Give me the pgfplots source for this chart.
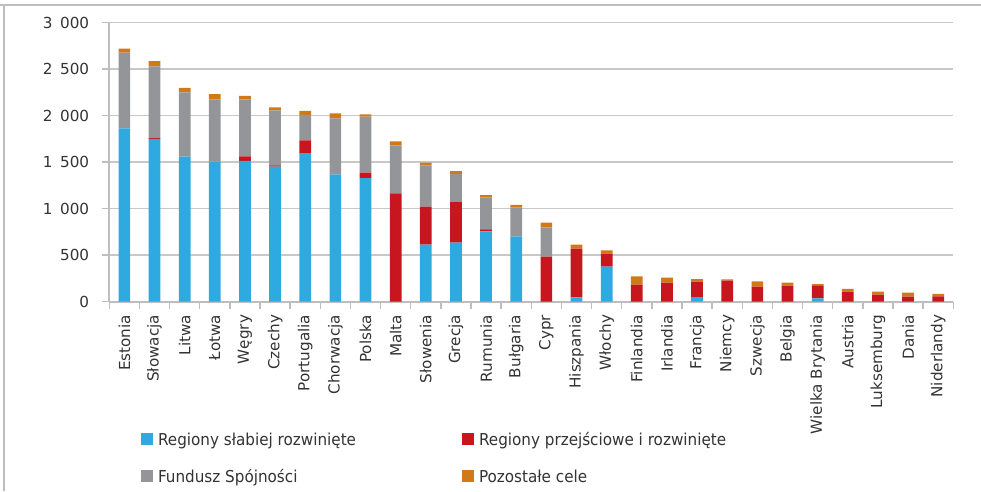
\documentclass[border=0pt]{standalone}
\usepackage{fontspec}
\setmainfont{DejaVu Sans}
\usepackage{pgfplots}
\usepackage{pgfplotstable}
\pgfplotsset{compat=1.18}

\definecolor{cBlue}{RGB}{46,170,225}
\definecolor{cRed}{RGB}{200,22,30}
\definecolor{cGray}{RGB}{147,149,152}
\definecolor{cOrange}{RGB}{208,121,24}
\definecolor{cGrid}{RGB}{200,200,200}
\definecolor{cAxis}{RGB}{190,190,190}
\definecolor{cText}{RGB}{51,51,51}

% allocations by country (EUR per capita)
\pgfplotstableread{
idx blue red gray orange
0  1865 0    813 43
1  1750 10   771 57
2  1559 0    693 46
3  1505 0    671 57
4  1513 50   613 36
5  1452 15   591 32
6  1592 143  273 43
7  1370 0    602 54
8  1330 57   603 25
9  0    1166 514 45
10 613  409  445 28
11 634  441  298 32
12 757  21   344 25
13 703  0    312 25
14 0    484  316 50
15 47   523  0   43
16 376  140  0   37
17 0    183  0   90
18 0    204  0   54
19 50   165  0   29
20 0    226  0   14
21 0    162  0   57
22 0    172  0   32
23 36   133  0   21
24 0    108  0   29
25 0    75   0   33
26 0    54   0   43
27 0    58   0   25
}\alloc

\pgfplotsset{sqlegend/.style={legend image code/.code={%
  \fill[##1,draw=none] (0pt,-6pt) rectangle (12pt,6pt);
  \path (17pt,0pt);}}}
\newcommand\legtext[1]{\scalebox{1}[1.08]{#1}}

\begin{document}
\begin{tikzpicture}[x=1pt,y=1pt]
\path[use as bounding box] (0,0) rectangle (981,491);
\draw[cAxis, line width=2.5pt] (0,486) -- (981,486);
\draw[cAxis, line width=2.5pt] (4,0) -- (4,487.25);
\begin{axis}[
  at={(109.3pt,189.3pt)}, anchor=south west,
  scale only axis, width=844pt, height=279pt,
  xmin=-0.5, xmax=27.5, ymin=0, ymax=3000,
  ybar stacked, bar width=11.7pt,
  axis x line*=bottom, axis y line*=left,
  axis line style={cAxis, line width=2pt, -},
  xtick={0,...,27},
  xticklabels={Estonia,Słowacja,Litwa,Łotwa,Węgry,Czechy,Portugalia,Chorwacja,Polska,Malta,Słowenia,Grecja,Rumunia,Bułgaria,Cypr,Hiszpania,Włochy,Finlandia,Irlandia,Francja,Niemcy,Szwecja,Belgia,Wielka Brytania,Austria,Luksemburg,Dania,Niderlandy},
  major x tick style={draw=none},
  minor xtick={-0.5,0.5,...,27.5},
  tick align=outside,
  major tick length=7pt, minor tick length=7pt,
  tick style={cAxis, line width=1.5pt},
  ytick={0,500,...,3000},
  ymajorgrids, grid style={cGrid, line width=1.5pt},
  tick label style={font=\fontsize{15.2}{18}\selectfont, text=cText},
  xticklabel style={rotate=90, anchor=east, inner xsep=6pt, inner ysep=0pt},
  yticklabel style={anchor=east, inner xsep=13pt, inner ysep=0pt},
  /pgf/number format/.cd, 1000 sep={\hspace{0.5em}}, assume math mode=true,
  /pgfplots/.cd,
  legend columns=2,
  legend cell align=left,
  legend style={at={(axis description cs:0.03756,-0.4717)}, anchor=north west,
    draw=none, fill=none, inner sep=0pt, outer sep=0pt,
    row sep=24.7pt, column sep=0pt,
    nodes={inner sep=0pt, outer sep=0pt, text height=12pt, text depth=0pt,
      anchor=west, text=cText, font=\fontsize{15.2}{18}\selectfont}},
]
\addplot[fill=cBlue, draw=none, sqlegend] table[x=idx, y=blue] {\alloc};
\addplot[fill=cRed, draw=none, sqlegend] table[x=idx, y=red] {\alloc};
\addplot[fill=cGray, draw=none, sqlegend] table[x=idx, y=gray] {\alloc};
\addplot[fill=cOrange, draw=none, sqlegend] table[x=idx, y=orange] {\alloc};
\legend{\makebox[304pt][l]{\legtext{Regiony słabiej rozwinięte}},
        \legtext{Regiony przejściowe i rozwinięte},
        \makebox[304pt][l]{\legtext{Fundusz Spójności}},
        \legtext{Pozostałe cele}}
\end{axis}
\end{tikzpicture}
\end{document}
